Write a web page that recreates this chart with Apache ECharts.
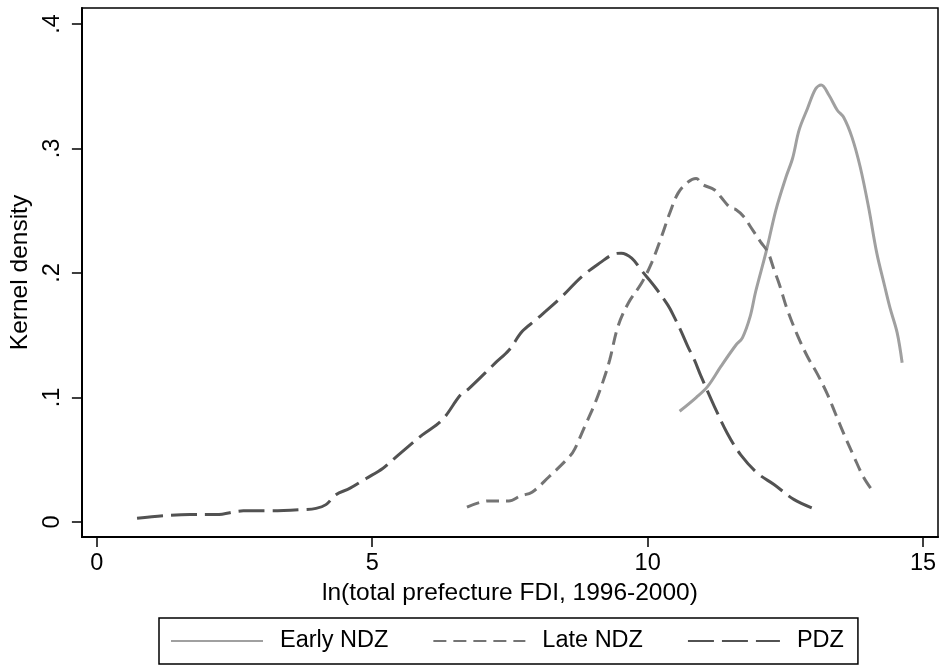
<!DOCTYPE html>
<html>
<head>
<meta charset="utf-8">
<script src="https://cdn.jsdelivr.net/npm/echarts@6/dist/echarts.min.js"></script>
<style>
  html, body { margin: 0; padding: 0; background: #fff; }
  #chart { width: 945px; height: 666px; }
</style>
</head>
<body>
<div id="chart"></div>
<script>
// ---- data ----
const seriesNames = ['Early NDZ', 'Late NDZ', 'PDZ'];

const earlyX = [10.58, 10.88, 11.09, 11.33, 11.60, 11.72, 11.86, 11.96, 12.15, 12.33, 12.51, 12.63, 12.75, 12.90, 13.05, 13.15, 13.29, 13.44, 13.56, 13.71, 13.86, 14.01, 14.16, 14.30, 14.40, 14.53, 14.62];
const earlyY = [0.089, 0.100, 0.109, 0.125, 0.142, 0.148, 0.165, 0.185, 0.217, 0.251, 0.277, 0.292, 0.315, 0.332, 0.348, 0.351, 0.343, 0.331, 0.325, 0.309, 0.285, 0.253, 0.216, 0.190, 0.172, 0.152, 0.128];

const lateX = [6.72, 7.11, 7.48, 7.69, 7.90, 8.20, 8.59, 8.68, 8.86, 9.04, 9.19, 9.31, 9.46, 9.65, 9.89, 10.07, 10.25, 10.40, 10.55, 10.73, 10.88, 11.00, 11.21, 11.33, 11.51, 11.60, 11.75, 11.87, 12.05, 12.18, 12.30, 12.39, 12.54, 12.72, 12.90, 13.08, 13.26, 13.41, 13.56, 13.74, 13.92, 14.10];
const lateY = [0.012, 0.017, 0.017, 0.021, 0.024, 0.036, 0.053, 0.059, 0.077, 0.095, 0.113, 0.130, 0.157, 0.176, 0.192, 0.208, 0.229, 0.248, 0.264, 0.273, 0.276, 0.271, 0.267, 0.261, 0.252, 0.251, 0.245, 0.237, 0.225, 0.217, 0.202, 0.191, 0.170, 0.150, 0.133, 0.119, 0.103, 0.087, 0.071, 0.053, 0.036, 0.024];

const pdzX = [0.73, 1.21, 1.69, 2.17, 2.66, 3.14, 3.74, 3.98, 4.16, 4.34, 4.59, 4.89, 5.19, 5.40, 5.61, 5.91, 6.27, 6.60, 6.75, 7.24, 7.48, 7.72, 7.96, 8.14, 8.44, 8.80, 9.16, 9.37, 9.52, 9.71, 9.89, 10.13, 10.37, 10.49, 10.61, 10.73, 10.85, 10.97, 11.21, 11.45, 11.69, 12.00, 12.30, 12.66, 13.11];
const pdzY = [0.003, 0.005, 0.006, 0.006, 0.009, 0.009, 0.010, 0.011, 0.014, 0.022, 0.027, 0.035, 0.043, 0.051, 0.059, 0.070, 0.082, 0.102, 0.107, 0.128, 0.138, 0.153, 0.162, 0.169, 0.181, 0.197, 0.209, 0.215, 0.216, 0.212, 0.202, 0.189, 0.174, 0.164, 0.153, 0.141, 0.130, 0.117, 0.093, 0.071, 0.054, 0.039, 0.030, 0.018, 0.009];

const xTicks = [0, 5, 10, 15];
const yTicks = [0, 0.1, 0.2, 0.3, 0.4];
const xTitle = 'ln(total prefecture FDI, 1996-2000)';
const yTitle = 'Kernel density';

// ---- chart ----
const zip = (xs, ys) => xs.map((x, i) => [x, ys[i]]);
const FONT = '"Liberation Sans", Arial, Helvetica, sans-serif';
const FS = 23.5;
const FS_TITLE = 24.5;

const chart = echarts.init(document.getElementById('chart'), null, { renderer: 'canvas' });

chart.setOption({
  animation: false,
  backgroundColor: '#fff',
  textStyle: { fontFamily: FONT, color: '#000' },
  grid: {
    left: 78, right: 7, top: 8, bottom: 129,
    show: true, borderColor: '#000', borderWidth: 1.5, backgroundColor: '#fff'
  },
  xAxis: {
    type: 'value',
    min: -0.271, max: 15.271,
    splitLine: { show: false },
    axisLine: { show: true, onZero: false, lineStyle: { color: '#000', width: 2 } },
    axisTick: { show: true, length: 10, customValues: xTicks, lineStyle: { color: '#000', width: 1.5 } },
    axisLabel: {
      customValues: xTicks, margin: 15, fontSize: FS, color: '#000', fontFamily: FONT,
      formatter: v => String(v)
    },
    name: xTitle, nameLocation: 'middle', nameGap: 40,
    nameTextStyle: { fontSize: FS_TITLE, color: '#000', fontFamily: FONT }
  },
  yAxis: {
    type: 'value',
    min: -0.012, max: 0.4129,
    splitLine: { show: false },
    axisLine: { show: true, onZero: false, lineStyle: { color: '#000', width: 2 } },
    axisTick: { show: true, length: 10, customValues: yTicks, lineStyle: { color: '#000', width: 1.5 } },
    axisLabel: {
      customValues: yTicks, rotate: 90, margin: 17, fontSize: FS, color: '#000', fontFamily: FONT,
      formatter: v => (Math.abs(v) < 1e-9 ? '0' : ('.' + Math.round(v * 10)))
    },
    name: yTitle, nameLocation: 'middle', nameGap: 46, nameRotate: 90,
    nameTextStyle: { fontSize: FS_TITLE, color: '#000', fontFamily: FONT }
  },
  legend: {
    data: seriesNames,
    left: 159, top: 618,
    orient: 'horizontal',
    borderColor: '#000', borderWidth: 1.5,
    padding: [11, 14, 11, 11],
    itemGap: 44,
    itemWidth: 92, itemHeight: 14,
    itemStyle: { opacity: 0 },
    textStyle: { fontSize: FS, color: '#000', fontFamily: FONT, padding: [0, 0, 0, 12] }
  },
  series: [
    {
      name: seriesNames[0], type: 'line', data: zip(earlyX, earlyY),
      showSymbol: false, symbol: 'none', smooth: 0.35,
      lineStyle: { color: '#a0a0a0', width: 3, type: 'solid' },
      itemStyle: { color: '#a0a0a0' }
    },
    {
      name: seriesNames[1], type: 'line', data: zip(lateX, lateY),
      showSymbol: false, symbol: 'none', smooth: 0.35,
      lineStyle: { color: '#747474', width: 3, type: [13, 7] },
      itemStyle: { color: '#747474' }
    },
    {
      name: seriesNames[2], type: 'line', data: zip(pdzX, pdzY),
      showSymbol: false, symbol: 'none', smooth: 0.35,
      lineStyle: { color: '#525252', width: 3, type: [26, 8] },
      itemStyle: { color: '#525252' }
    }
  ]
});
</script>
</body>
</html>
